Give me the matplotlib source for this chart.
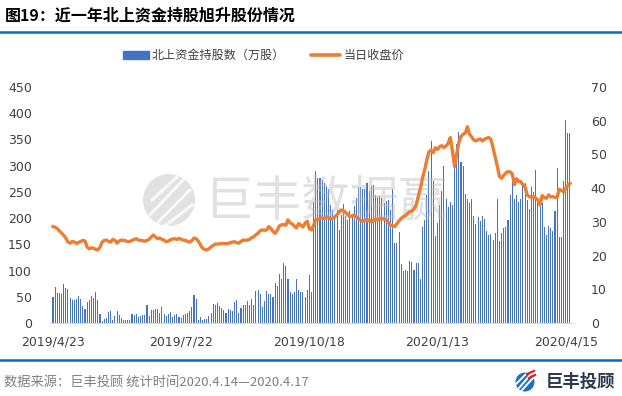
import matplotlib
matplotlib.use("Agg")
import matplotlib.pyplot as plt
import numpy as np
from matplotlib.patches import Rectangle, Circle
from matplotlib.lines import Line2D

plt.rcParams['font.family'] = ['Noto Sans CJK SC', 'DejaVu Sans']

title = "图19：近一年北上资金持股旭升股份情况"
bar_label = "北上资金持股数（万股）"
line_label = "当日收盘价"
footer = "数据来源：巨丰投顾 统计时间2020.4.14—2020.4.17"
tick_pos = [0, 60, 120, 180, 240]
tick_labels = ["2019/4/23", "2019/7/22", "2019/10/18", "2020/1/13", "2020/4/15"]

holdings = [
    50, 69, 57, 57, 55, 74, 67, 65, 48, 44, 44, 46, 51, 46, 32, 27, 40, 44, 51, 48,
    59, 44, 17, 3, 8, 10, 21, 23, 6, 13, 23, 15, 10, 6, 6, 6, 6, 17, 15, 17,
    11, 13, 15, 15, 34, 13, 25, 24, 27, 27, 19, 31, 17, 13, 17, 21, 11, 15, 17, 11,
    10, 15, 17, 19, 23, 31, 54, 46, 6, 11, 6, 8, 8, 13, 19, 36, 35, 38, 33, 29,
    25, 19, 27, 25, 23, 40, 44, 19, 29, 34, 34, 42, 34, 46, 34, 61, 63, 55, 31, 42,
    61, 55, 55, 50, 76, 71, 93, 84, 114, 109, 84, 59, 55, 59, 84, 63, 59, 59, 50, 63,
    92, 59, 231, 290, 276, 276, 273, 267, 261, 256, 225, 215, 204, 215, 177, 206, 227, 204, 196, 213,
    208, 223, 238, 259, 259, 256, 256, 267, 252, 261, 263, 244, 240, 242, 238, 229, 233, 235, 215, 256,
    153, 153, 174, 113, 99, 101, 99, 118, 116, 101, 114, 114, 84, 183, 196, 244, 290, 347, 271, 166,
    191, 225, 252, 299, 236, 221, 231, 225, 298, 341, 364, 307, 299, 246, 236, 229, 236, 204, 189, 202,
    195, 204, 198, 175, 168, 170, 158, 172, 236, 156, 172, 181, 183, 196, 244, 269, 236, 244, 231, 236,
    263, 267, 235, 217, 259, 250, 292, 236, 231, 229, 183, 168, 185, 181, 175, 214, 296, 164, 164, 271,
    387, 362, 362,
]

close_price = [
    28.6, 28.4, 28.0, 27.3, 26.7, 26.0, 25.2, 24.0, 23.7, 24.2,
    24.0, 23.6, 23.9, 24.2, 24.5, 24.3, 22.5, 22.0, 22.3, 22.2,
    21.8, 21.7, 22.5, 24.0, 24.5, 24.6, 24.2, 24.0, 24.8, 24.5,
    23.7, 24.3, 24.6, 24.5, 24.4, 24.1, 24.2, 24.5, 24.8, 25.0,
    24.6, 24.5, 24.4, 24.3, 24.5, 24.8, 25.5, 26.1, 25.5, 25.0,
    25.2, 24.8, 24.6, 24.1, 24.3, 24.7, 24.9, 25.0, 24.8, 25.1,
    24.8, 24.6, 24.5, 24.2, 24.0, 24.4, 25.2, 25.0, 24.3, 23.2,
    22.2, 21.8, 21.7, 22.0, 22.6, 23.0, 23.4, 23.4, 23.5, 23.6,
    23.6, 23.5, 23.6, 23.8, 24.0, 24.1, 23.8, 23.7, 24.2, 24.6,
    24.5, 24.6, 24.8, 25.3, 25.6, 26.2, 26.6, 27.4, 27.6, 27.5,
    27.6, 28.6, 28.0, 27.2, 26.6, 27.5, 28.8, 29.1, 29.2, 29.0,
    30.6, 29.7, 29.4, 28.7, 28.2, 29.5, 29.0, 28.5, 29.6, 30.2,
    28.0, 27.6, 29.0, 30.6, 30.8, 31.0, 31.2, 31.0, 31.5, 31.3,
    30.8, 31.1, 31.5, 32.2, 33.0, 33.5, 33.3, 32.8, 32.2, 31.5,
    31.8, 32.0, 31.5, 31.0, 30.5, 30.1, 30.5, 30.3, 30.6, 30.0,
    30.4, 30.8, 30.6, 30.9, 31.0, 30.8, 30.5, 29.8, 29.0, 28.8,
    28.6, 29.5, 30.3, 31.0, 31.5, 31.8, 32.5, 33.0, 33.2, 33.8,
    35.0, 37.5, 40.0, 43.0, 45.4, 48.4, 50.8, 51.3, 50.5, 52.0,
    51.5, 52.3, 52.6, 52.0, 52.5, 53.3, 55.0, 51.0, 46.4, 50.3,
    53.5, 55.3, 56.0, 56.3, 58.2, 56.0, 55.2, 54.3, 54.0, 54.4,
    54.6, 54.0, 54.5, 54.8, 55.0, 54.5, 52.0, 49.3, 46.5, 43.5,
    42.9, 43.8, 44.5, 44.9, 44.8, 44.2, 41.0, 42.8, 42.0, 41.9,
    41.0, 40.3, 38.0, 37.5, 37.3, 37.5, 37.0, 36.5, 35.0, 37.8,
    37.2, 37.0, 38.0, 37.4, 37.5, 37.2, 37.3, 39.7, 39.3, 38.9,
    40.0, 40.8, 41.4,
]

W, H = 622, 396
fig = plt.figure(figsize=(W / 100, H / 100), dpi=100)

def fx(px):
    return px / W

def fy(py):
    return 1 - py / H

BAR_C = "#4472C4"
LINE_C = "#ED7D31"
TXT_C = "#404040"

# axes
ax_left, ax_right, ax_top, ax_bot = 50, 574, 87, 323
rect = [fx(ax_left), fy(ax_bot), (ax_right - ax_left) / W, (ax_bot - ax_top) / H]
ax = fig.add_axes(rect, zorder=0)
x = np.arange(len(holdings))
ax.bar(x, holdings, width=0.5, color=BAR_C, zorder=2, antialiased=False, linewidth=0)
ax.set_ylim(0, 450)
ax.set_yticks(np.arange(0, 451, 50))
ax.set_xlim(-1.4, 243.9)
ax.set_xticks(tick_pos)
ax.set_xticklabels(tick_labels)
for s in ["top", "right", "left"]:
    ax.spines[s].set_visible(False)
ax.spines["bottom"].set_color("#d9d9d9")
ax.tick_params(axis="y", length=0, pad=13, labelsize=9, labelcolor=TXT_C)
ax.tick_params(axis="x", length=0, pad=9, labelsize=9, labelcolor=TXT_C)
for lab in ax.get_xticklabels() + ax.get_yticklabels():
    lab.set_family("DejaVu Sans")

# watermark layer (between bars and line)
wm_ax = fig.add_axes([0, 0, 1, 1], zorder=1)
wm_ax.set_xlim(0, W)
wm_ax.set_ylim(H, 0)
wm_ax.axis("off")
wm_ax.patch.set_alpha(0)
wm_ax.add_patch(Circle((169, 200), 26, color="#bdbdbd", alpha=0.45, lw=0))
for (x0, y0, x1, y1) in [(150, 215, 185, 178), (158, 222, 190, 190), (152, 200, 178, 176), (165, 226, 192, 205)]:
    wm_ax.plot([x0, x1], [y0, y1], color="white", lw=2.2, alpha=0.8)
wm_ax.text(205, 202, "巨丰数据赢", fontsize=35, color="#bdbdbd", alpha=0.45, va="center", ha="left")

# line axis on top
ax2 = fig.add_axes(rect, zorder=2, sharex=ax)
ax2.patch.set_alpha(0)
ax2.yaxis.tick_right()
ax2.plot(np.arange(len(close_price)), close_price, color=LINE_C, lw=2.4, solid_joinstyle="round", zorder=3)
ax2.set_ylim(0, 70)
ax2.set_yticks(np.arange(0, 71, 10))
for s in ["top", "right", "left", "bottom"]:
    ax2.spines[s].set_visible(False)
ax2.tick_params(axis="y", length=0, pad=12, labelsize=9, labelcolor=TXT_C)
ax2.tick_params(axis="x", bottom=False, labelbottom=False)
for lab in ax2.get_yticklabels():
    lab.set_family("DejaVu Sans")

# title and rules
fig.text(fx(5), fy(15), title, fontsize=11.5, fontweight="bold", color="#000000", va="center", ha="left")
fig.add_artist(Line2D([0, 1], [fy(32), fy(32)], color="#0070C0", lw=1.8, transform=fig.transFigure))
fig.add_artist(Line2D([0, 1], [fy(359.5), fy(359.5)], color="#0070C0", lw=1.8, transform=fig.transFigure))

# legend
fig.add_artist(Rectangle((fx(123), fy(59)), (149 - 123) / W, 8 / H, color=BAR_C, transform=fig.transFigure))
fig.text(fx(152), fy(55), bar_label, fontsize=8.7, color=TXT_C, va="center", ha="left")
fig.add_artist(Line2D([fx(311), fx(340)], [fy(55), fy(55)], color=LINE_C, lw=2.6, transform=fig.transFigure,
                      solid_capstyle="round"))
fig.text(fx(344), fy(55), line_label, fontsize=8.7, color=TXT_C, va="center", ha="left")

# footer
fig.text(fx(4), fy(382), footer, fontsize=9.5, color="#7f7f7f", va="center", ha="left")
wm_ax.add_patch(Circle((525, 382), 9.5, color="#1E6FC0", lw=0))
for (x0, y0, x1, y1) in [(519, 388, 531, 374), (522, 390, 534, 377), (516, 384, 528, 372)]:
    wm_ax.plot([x0, x1], [y0, y1], color="white", lw=1.4)
for (x0, y0, x1, y1) in [(527, 374, 534, 371), (529, 378, 535, 375)]:
    wm_ax.plot([x0, x1], [y0, y1], color="#E02020", lw=1.6)
fig.text(fx(546), fy(382), "巨丰投顾", fontsize=12.5, fontweight="bold", color="#2B3A4F", va="center", ha="left")

fig.savefig("out.png", dpi=100)
